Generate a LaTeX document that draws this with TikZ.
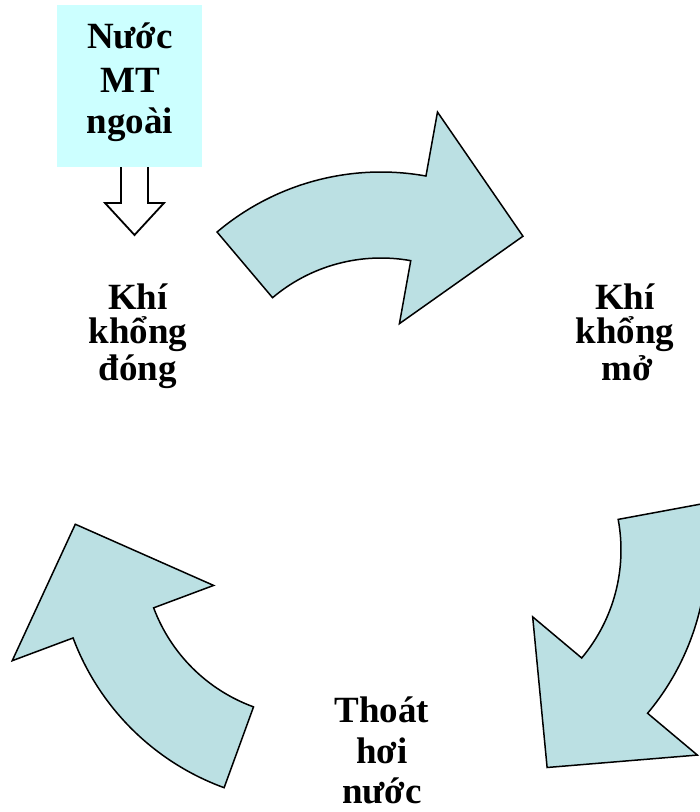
\documentclass[tikz,border=0pt]{standalone}
\usepackage{fontspec}
\setmainfont{Liberation Serif}
\usetikzlibrary{calc}
\definecolor{boxcyan}{RGB}{204,255,255}
\definecolor{arrowblue}{RGB}{187,224,227}
\tikzset{
  lbl/.style={anchor=base, inner sep=0pt, font=\fontsize{37}{40}\selectfont\bfseries},
  bent/.style={fill=arrowblue, draw=black, line width=1.5pt, line join=miter},
  downarrow/.style={fill=white, draw=black, line width=1.8pt}
}
% #1 center, #2 tail angle, #3 head angle, #4 tip angle
\newcommand{\bentarrow}[4]{%
  \draw[bent] ($(#1)+(#2:168)$) arc[start angle=#2, end angle=#3, radius=168]
    -- ($(#1)+(#3:104)$) -- ($(#1)+(#4:237)$) -- ($(#1)+(#3:319)$)
    -- ($(#1)+(#3:254)$) arc[start angle=#3, end angle=#2, radius=254] -- cycle;}
\begin{document}
\begin{tikzpicture}[x=1pt,y=-1pt]
\useasboundingbox (0,0) rectangle (700,812);
% source box
\fill[boxcyan] (57,5) rectangle (202,167);
\node[lbl] (n1) at (130,48) {Nước};
\node[lbl] (n2) at (130,92) {MT};
\node[lbl] (n3) at (130,133) {ngoài};
% down block arrow
\coordinate (sL) at (121,167);
\coordinate (sR) at (148,167);
\draw[downarrow] (sL) -- (121,203) -- (105,203) -- (134.5,235) -- (164,203) -- (148,203) -- (sR);
% curved arrows
\coordinate (Ot) at (381,426);
\coordinate (Or) at (453,550);
\coordinate (Ol) at (311,549);
\bentarrow{Ot}{-130.2}{-79.8}{-53.2}
\bentarrow{Or}{-10.5}{40}{66.6}
\bentarrow{Ol}{110}{159.5}{186}
% labels
\node[lbl] (a1) at (138,309) {Khí};
\node[lbl] (a2) at (138,343) {khổng};
\node[lbl] (a3) at (138,380) {đóng};
\node[lbl] (b1) at (625,309) {Khí};
\node[lbl] (b2) at (625,343) {khổng};
\node[lbl] (b3) at (627,380) {mở};
\node[lbl] (c1) at (382,722) {Thoát};
\node[lbl] (c2) at (382,763) {hơi};
\node[lbl] (c3) at (382,803) {nước};
\end{tikzpicture}
\end{document}
